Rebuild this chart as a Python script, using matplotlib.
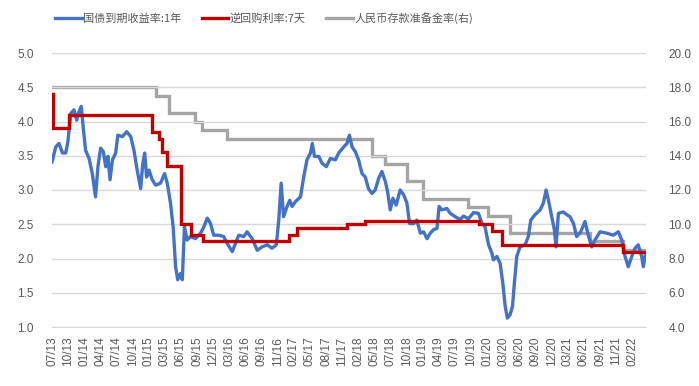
import matplotlib
matplotlib.use("Agg")
import matplotlib.pyplot as plt
import numpy as np

plt.rcParams['font.family'] = ['Liberation Sans', 'Noto Sans CJK SC', 'DejaVu Sans']

# x positions: trading-day index (60 trading days per tick label)
tick_labels = ["07/13", "10/13", "01/14", "04/14", "07/14", "10/14", "01/15", "03/15",
               "06/15", "09/15", "12/15", "03/16", "06/16", "09/16", "11/16", "02/17",
               "05/17", "08/17", "11/17", "02/18", "05/18", "07/18", "10/18", "01/19",
               "04/19", "07/19", "10/19", "01/20", "03/20", "06/20", "09/20", "12/20",
               "03/21", "06/21", "09/21", "11/21", "02/22"]
DAYS_PER_LABEL = 60
LAST_DAY = 2211

# 1Y treasury yield (%)
yield_day = [0, 14, 26, 39, 51, 59, 70, 82, 92, 100, 109, 117, 125, 138, 150, 162, 171, 181,
             191, 200, 208, 216, 225, 237, 245, 262, 278, 293, 305, 317, 330, 338, 345, 352,
             361, 373, 386, 404, 419, 429, 441, 451, 460, 468, 478, 485, 493, 503, 516, 534,
             553, 565, 578, 590, 602, 621, 639, 652, 671, 683, 695, 714, 726, 745, 764, 782,
             801, 819, 835, 844, 853, 862, 875, 885, 894, 906, 925, 937, 949, 962, 969, 977,
             993, 1005, 1021, 1036, 1055, 1067, 1086, 1098, 1107, 1117, 1129, 1141, 1154,
             1166, 1178, 1191, 1203, 1216, 1228, 1241, 1249, 1259, 1269, 1281, 1296, 1309,
             1321, 1331, 1346, 1358, 1371, 1383, 1396, 1408, 1420, 1433, 1441, 1451, 1470,
             1482, 1501, 1519, 1532, 1550, 1569, 1587, 1600, 1612, 1625, 1637, 1643, 1656,
             1668, 1678, 1687, 1695, 1705, 1714, 1721, 1730, 1742, 1761, 1773, 1782, 1798,
             1817, 1829, 1839, 1848, 1860, 1870, 1876, 1885, 1903, 1916, 1928, 1941, 1953,
             1968, 1984, 1996, 2009, 2021, 2040, 2065, 2089, 2108, 2121, 2133, 2145, 2158,
             2170, 2182, 2195, 2201, 2210]
yield_val = [3.41, 3.63, 3.68, 3.54, 3.54, 3.70, 4.12, 4.17, 4.02, 4.14, 4.22, 3.88, 3.58,
             3.46, 3.24, 2.90, 3.34, 3.61, 3.56, 3.34, 3.49, 3.15, 3.44, 3.54, 3.80, 3.78,
             3.85, 3.78, 3.58, 3.29, 3.02, 3.39, 3.54, 3.19, 3.29, 3.15, 3.07, 3.10, 3.24,
             3.10, 2.81, 2.46, 1.88, 1.69, 1.78, 1.69, 2.46, 2.27, 2.32, 2.29, 2.37, 2.46,
             2.59, 2.51, 2.34, 2.34, 2.32, 2.22, 2.10, 2.22, 2.34, 2.32, 2.39, 2.29, 2.12,
             2.17, 2.20, 2.15, 2.20, 2.56, 3.10, 2.61, 2.76, 2.85, 2.76, 2.83, 2.90, 3.19,
             3.44, 3.54, 3.68, 3.49, 3.49, 3.39, 3.34, 3.46, 3.44, 3.54, 3.63, 3.68, 3.80,
             3.63, 3.56, 3.44, 3.24, 3.19, 3.02, 2.95, 3.00, 3.17, 3.27, 3.12, 2.98, 2.71,
             2.88, 2.78, 3.00, 2.93, 2.81, 2.51, 2.51, 2.56, 2.37, 2.39, 2.29, 2.37, 2.42,
             2.44, 2.76, 2.71, 2.73, 2.66, 2.61, 2.57, 2.62, 2.58, 2.67, 2.66, 2.52, 2.46,
             2.20, 2.08, 1.98, 2.03, 1.93, 1.64, 1.30, 1.13, 1.18, 1.30, 1.64, 2.03, 2.17,
             2.20, 2.32, 2.56, 2.64, 2.71, 2.81, 3.00, 2.85, 2.61, 2.42, 2.17, 2.66, 2.68,
             2.64, 2.61, 2.51, 2.32, 2.39, 2.54, 2.34, 2.17, 2.27, 2.39, 2.37, 2.34, 2.39,
             2.27, 2.03, 1.88, 2.03, 2.15, 2.20, 2.03, 1.88, 2.08]

# 7-day reverse repo rate (%), value from each change day onward
repo_day = [0, 5, 63, 372, 397, 410, 429, 480, 518, 563, 881, 912, 1098, 1166, 1590, 1637,
            1674, 2126]
repo_val = [4.40, 3.90, 4.10, 3.85, 3.75, 3.55, 3.35, 2.50, 2.35, 2.25, 2.35, 2.45, 2.50,
            2.55, 2.50, 2.40, 2.20, 2.10]

# RRR (%), right axis
rrr_day = [0, 386, 434, 531, 560, 653, 1192, 1240, 1321, 1381, 1549, 1623, 1703, 2003, 2125]
rrr_val = [18.0, 17.5, 16.5, 16.0, 15.5, 15.0, 14.0, 13.5, 12.5, 11.5, 11.0, 10.5, 9.5, 9.0,
           8.5]

BLUE = "#4472C4"
RED = "#C00000"
GREY = "#A5A5A5"
TXT = "#595959"
GRID = "#D9D9D9"

fig = plt.figure(figsize=(6.99, 3.86), dpi=100)
ax = fig.add_axes([52 / 699, 59 / 386, 594 / 699, 274 / 386])
ax2 = ax.twinx()

# step series extend to the last day
rd = repo_day + [LAST_DAY]
rv = repo_val + [repo_val[-1]]
gd = rrr_day + [LAST_DAY]
gv = rrr_val + [rrr_val[-1]]

l3, = ax2.plot(gd, gv, drawstyle='steps-post', color=GREY, lw=2.4, solid_joinstyle='miter')
l1, = ax.plot(yield_day, yield_val, color=BLUE, lw=2.4)
l2, = ax.plot(rd, rv, drawstyle='steps-post', color=RED, lw=2.4, solid_joinstyle='miter')

ax.set_zorder(ax2.get_zorder() + 1)
ax.patch.set_visible(False)

ax.set_xlim(0, LAST_DAY)
ax.set_ylim(1.0, 5.0)
ax2.set_ylim(4.0, 20.0)
ax.set_yticks(np.arange(1.0, 5.01, 0.5))
ax.set_yticklabels([f"{v:.1f}" for v in np.arange(1.0, 5.01, 0.5)])
ax2.set_yticks(np.arange(4.0, 20.01, 2.0))
ax2.set_yticklabels([f"{v:.1f}" for v in np.arange(4.0, 20.01, 2.0)])
ax.set_xticks(np.arange(len(tick_labels)) * DAYS_PER_LABEL)
ax.set_xticklabels(tick_labels, rotation=90)

ax.grid(axis='y', color=GRID, lw=1.0)
ax.set_axisbelow(True)
for a in (ax, ax2):
    for s in a.spines.values():
        s.set_visible(False)
ax.spines['bottom'].set_visible(True)
ax.spines['bottom'].set_color(GRID)

ax.tick_params(axis='y', length=0, pad=13, labelsize=8.5, labelcolor=TXT)
ax2.tick_params(axis='y', length=0, pad=16, labelsize=8.5, labelcolor=TXT)
ax.tick_params(axis='x', length=0, pad=7, labelsize=8.5, labelcolor=TXT)

fig.legend([l1, l2, l3], ["国债到期收益率:1年", "逆回购利率:7天", "人民币存款准备金率(右)"],
           loc='center left', bbox_to_anchor=(55 / 699, 1 - 18 / 386), ncol=3, frameon=False,
           borderpad=0, borderaxespad=0, handlelength=2.4, handletextpad=0.15,
           columnspacing=1.8, prop={'family': ['Noto Sans CJK SC'], 'size': 8},
           labelcolor=TXT)

fig.savefig("out.png", dpi=100)
